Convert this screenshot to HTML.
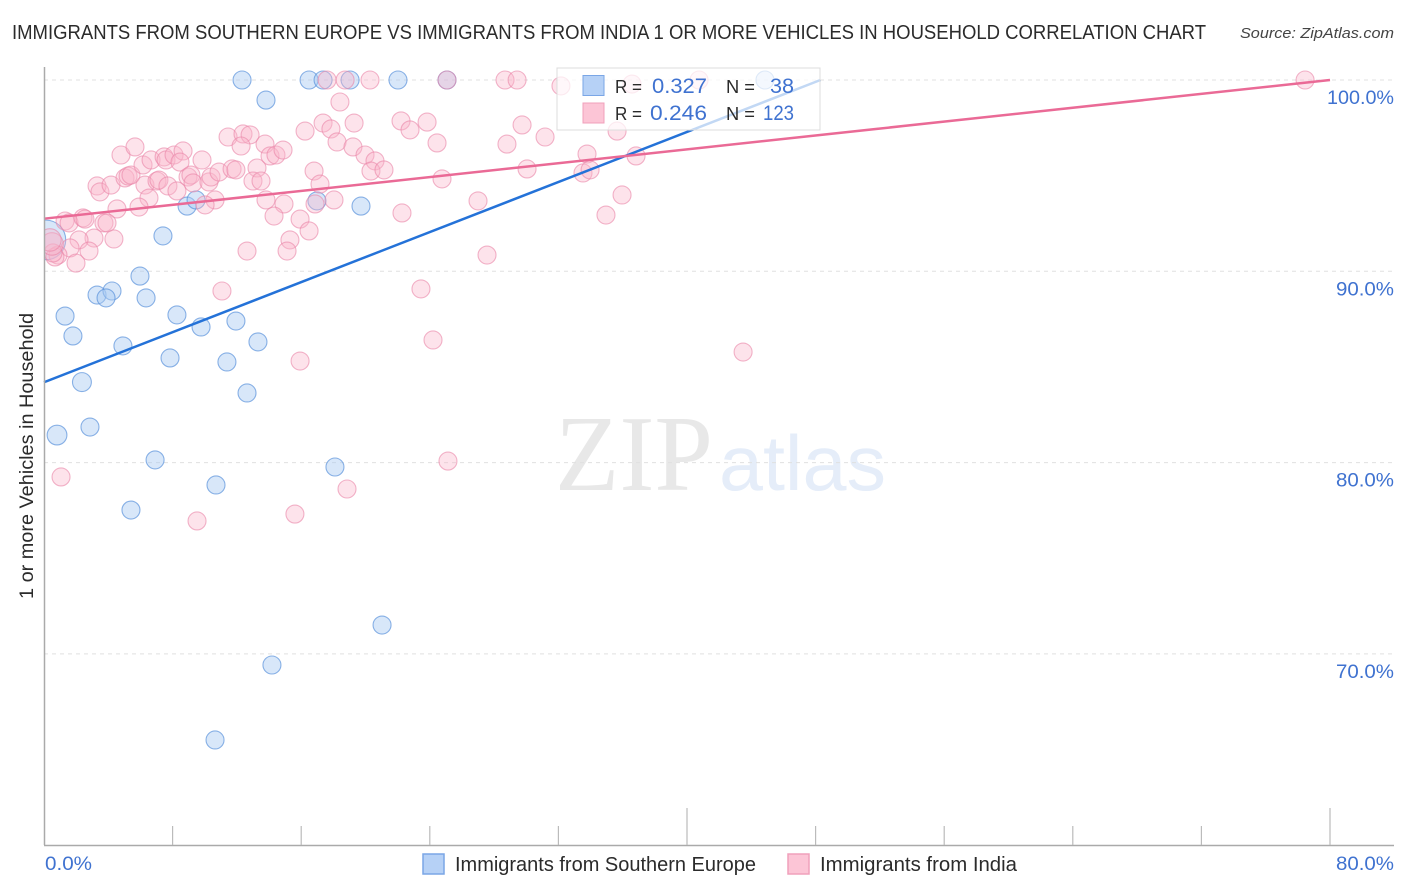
<!DOCTYPE html>
<html lang="en">
<head>
<meta charset="utf-8">
<title>Correlation chart</title>
<style>
html,body{margin:0;padding:0;background:#fff;width:1406px;height:892px;overflow:hidden}
svg{display:block;font-family:"Liberation Sans",sans-serif}
</style>
</head>
<body>
<svg id="chart" width="1406" height="892" viewBox="0 0 1406 892" xmlns="http://www.w3.org/2000/svg">
  <defs><clipPath id="plot-clip"><rect x="45" y="60" width="1349" height="785"/></clipPath></defs>
  <text x="12" y="39" font-size="20" fill="#2b2b2b" textLength="1194" lengthAdjust="spacingAndGlyphs">IMMIGRANTS FROM SOUTHERN EUROPE VS IMMIGRANTS FROM INDIA 1 OR MORE VEHICLES IN HOUSEHOLD CORRELATION CHART</text>
  <text x="1394" y="38" font-size="15" font-style="italic" fill="#444" text-anchor="end" textLength="154" lengthAdjust="spacingAndGlyphs">Source: ZipAtlas.com</text>
  <g id="watermark">
    <text x="555" y="490" font-family="'Liberation Serif',serif" font-size="108" fill="#e8e8e8" textLength="158" lengthAdjust="spacingAndGlyphs">ZIP</text>
    <text x="719" y="490" font-size="78" fill="#e5edf9" textLength="167" lengthAdjust="spacingAndGlyphs">atlas</text>
  </g>
  <g id="grid"></g>
  <g id="y-labels"></g>
  <g id="points" clip-path="url(#plot-clip)"></g>
  <g id="trends"></g>
  <g id="axes"></g>
  <text transform="translate(33,456) rotate(-90)" font-size="19" fill="#2b2b2b" text-anchor="middle" textLength="286" lengthAdjust="spacingAndGlyphs">1 or more Vehicles in Household</text>
  <text x="45" y="870" font-size="19" fill="#3f72d0" textLength="47" lengthAdjust="spacingAndGlyphs">0.0%</text>
  <text x="1394" y="870" font-size="19" fill="#3f72d0" text-anchor="end" textLength="58" lengthAdjust="spacingAndGlyphs">80.0%</text>
  <g>
    <rect x="557" y="68" width="263" height="62" fill="#fff" fill-opacity="0.72" stroke="#dcdcdc" stroke-width="1"/>
    <rect x="583" y="75.500" width="21" height="20" fill="#b6d1f6" stroke="#7aa6e6" stroke-width="1"/>
    <rect x="583" y="103" width="21" height="20" fill="#fcc5d6" stroke="#f0a0bb" stroke-width="1"/>
    <text x="615" y="93" font-size="18" fill="#2b2b2b" textLength="27" lengthAdjust="spacingAndGlyphs">R =</text>
    <text x="707" y="93" font-size="21" fill="#3f72d0" text-anchor="end" textLength="55" lengthAdjust="spacingAndGlyphs">0.327</text>
    <text x="726" y="93" font-size="18" fill="#2b2b2b" textLength="29" lengthAdjust="spacingAndGlyphs">N =</text>
    <text x="794" y="93" font-size="21" fill="#3f72d0" text-anchor="end" textLength="24" lengthAdjust="spacingAndGlyphs">38</text>
    <text x="615" y="120" font-size="18" fill="#2b2b2b" textLength="27" lengthAdjust="spacingAndGlyphs">R =</text>
    <text x="707" y="120" font-size="21" fill="#3f72d0" text-anchor="end" textLength="57" lengthAdjust="spacingAndGlyphs">0.246</text>
    <text x="726" y="120" font-size="18" fill="#2b2b2b" textLength="29" lengthAdjust="spacingAndGlyphs">N =</text>
    <text x="794" y="120" font-size="21" fill="#3f72d0" text-anchor="end" textLength="31" lengthAdjust="spacingAndGlyphs">123</text>
  </g>
  <g>
    <rect x="423" y="854" width="21" height="20" fill="#b6d1f6" stroke="#7aa6e6" stroke-width="1.500"/>
    <text x="455" y="871" font-size="20" fill="#2b2b2b" textLength="301" lengthAdjust="spacingAndGlyphs">Immigrants from Southern Europe</text>
  </g>
  <g>
    <rect x="788" y="854" width="21" height="20" fill="#fcc5d6" stroke="#f0a0bb" stroke-width="1.500"/>
    <text x="820" y="871" font-size="20" fill="#2b2b2b" textLength="197" lengthAdjust="spacingAndGlyphs">Immigrants from India</text>
  </g>
</svg>
<script>
const yTickValues = [100, 90, 80, 70];
const yTickLabels = ['100.0%', '90.0%', '80.0%', '70.0%'];
const xTickValues = [0, 8, 16, 24, 32, 40, 48, 56, 64, 72, 80];
const xMajorTicks = [40, 80];

const europeX = [12.32,16.49,17.36,19.04,22.02,25.07,44.85,13.81,8.90,9.46,16.98,19.72,7.40,0.12,5.97,3.30,4.23,3.86,6.35,1.31,1.80,8.27,9.77,11.94,4.91,13.31,7.84,11.38,2.36,12.63,0.81,2.86,6.91,10.70,5.41,18.10,21.03,14.18,10.64];
const europeY = [100,100,100,100,100,100,100,98.95,93.41,93.73,93.68,93.41,91.85,91.64,89.75,88.76,88.97,88.61,88.61,87.66,86.62,87.72,87.09,87.40,86.10,86.31,85.47,85.26,84.21,83.64,81.44,81.86,80.14,78.83,77.52,79.77,71.51,69.42,65.50];
const europeWeight = {13: 2.2, 28: 1.05, 30: 1.1};

const indiaX = [4.79,5.66,3.30,3.48,4.17,5.04,5.23,5.41,6.16,6.66,7.47,7.59,8.09,8.65,8.46,9.83,8.96,9.14,9.27,6.28,7.03,7.15,7.71,8.27,6.53,5.91,4.54,10.26,10.39,10.89,11.70,11.94,10.64,10.02,13.25,13.00,13.50,13.81,14.93,14.31,15.93,16.49,15.30,15.12,12.63,11.07,11.45,12.38,12.82,12.26,13.75,14.06,14.43,14.87,16.24,17.36,17.85,18.23,16.80,17.17,18.04,16.86,18.41,17.61,18.73,1.31,1.56,2.43,2.55,3.73,3.92,3.11,2.18,4.35,2.80,1.62,1.99,0.87,0.68,0.56,0.50,0.37,20.28,28.68,29.43,32.16,36.58,40.75,22.21,22.77,23.83,24.45,19.29,19.22,19.97,20.59,20.34,21.15,24.76,29.74,28.80,31.17,35.65,33.78,30.05,36.83,33.53,33.97,35.96,27.00,22.27,34.96,27.56,23.45,24.20,43.49,15.93,25.13,18.85,15.61,9.52,1.06,78.45,25.07];
const indiaY = [96.08,96.50,94.46,94.15,94.51,94.88,94.98,95.03,95.56,95.82,95.98,95.82,96.08,96.29,95.71,95.82,94.93,95.03,94.62,94.51,94.72,94.77,94.46,94.20,93.83,93.36,93.26,94.67,94.93,95.19,95.35,95.30,93.73,93.47,95.40,94.72,94.72,93.73,93.52,92.89,92.73,92.11,91.64,91.06,91.06,88.97,97.02,97.18,97.13,96.55,96.65,96.03,96.08,96.34,97.33,97.75,97.44,96.76,95.24,94.56,93.73,93.52,98.85,100,100,92.63,92.53,92.79,92.73,92.53,92.53,91.74,91.64,91.69,91.06,91.22,90.43,90.85,90.75,90.96,91.43,91.64,100,100,100,99.69,99.79,100,97.86,97.39,97.80,96.71,97.75,96.50,96.08,95.77,95.24,95.30,94.83,97.65,96.65,97.02,97.33,96.13,95.35,96.03,95.14,95.30,93.99,93.68,93.05,92.94,90.85,89.08,86.41,85.78,85.31,80.08,78.62,77.31,76.95,79.25,100,100];
const indiaWeight = {80: 1.25, 81: 1.25};

const europeTrendX = [0, 48.3];
const europeTrendY = [84.2, 100];
const indiaTrendX = [0, 80];
const indiaTrendY = [92.75, 100];

const NS = 'http://www.w3.org/2000/svg';
const xScale = v => 44 + v * 16.075;
const yScale = v => 80 + (100 - v) * 19.13;
const BASE_R = 9;

function make(tag, attrs, parent) {
  const el = document.createElementNS(NS, tag);
  for (const k in attrs) el.setAttribute(k, attrs[k]);
  parent.appendChild(el);
  return el;
}

const grid = document.getElementById('grid');
const yLabels = document.getElementById('y-labels');
yTickValues.forEach((v, i) => {
  const line = make('line', {x1: 44, x2: 1394, y1: yScale(v), y2: yScale(v), stroke: '#e0e0e0', 'stroke-width': 1, 'stroke-dasharray': '4 4'}, grid);
  
  
  const label = make('text', {x: 1394, y: yScale(v) + 24, 'font-size': 19, fill: '#3f72d0', 'text-anchor': 'end', textLength: yTickLabels[i].length > 5 ? 67 : 58, lengthAdjust: 'spacingAndGlyphs'}, yLabels);
  
  
  label.textContent = yTickLabels[i];
});

const axes = document.getElementById('axes');
const yAxis = make('line', {x1: 44.500, x2: 44.500, y1: 67, y2: 845, stroke: '#aaaaaa', 'stroke-width': 1.500}, axes);


const xAxis = make('line', {x1: 44, x2: 1394, y1: 845.500, y2: 845.500, stroke: '#aaaaaa', 'stroke-width': 1.500}, axes);


xTickValues.forEach(v => {
  if (v === 0) return;
  const top = xMajorTicks.includes(v) ? 808 : 826;
  const tick = make('line', {x1: xScale(v), x2: xScale(v), y1: top, y2: 845, stroke: '#bbbbbb', 'stroke-width': 1.200}, axes);
  
  
});

const points = document.getElementById('points');
europeX.forEach((x, i) => {
  const c = make('circle', {cx: xScale(x), cy: yScale(europeY[i]), r: BASE_R * (europeWeight[i] || 1), fill: '#a9c9f2', 'fill-opacity': 0.45, stroke: '#5b93dc', 'stroke-opacity': 0.7, 'stroke-width': 1.100}, points);
  
  
});
indiaX.forEach((x, i) => {
  const c = make('circle', {cx: xScale(x), cy: yScale(indiaY[i]), r: BASE_R * (indiaWeight[i] || 1), fill: '#f9b5ca', 'fill-opacity': 0.38, stroke: '#ea84a6', 'stroke-opacity': 0.6, 'stroke-width': 1.100}, points);
  
  
});

const trends = document.getElementById('trends');
const blueTrend = make('line', {x1: xScale(europeTrendX[0]), y1: yScale(europeTrendY[0]), x2: xScale(europeTrendX[1]), y2: yScale(europeTrendY[1]), stroke: '#2472d8', 'stroke-width': 2.500}, trends);


const pinkTrend = make('line', {x1: xScale(indiaTrendX[0]), y1: yScale(indiaTrendY[0]), x2: xScale(indiaTrendX[1]), y2: yScale(indiaTrendY[1]), stroke: '#ea6a96', 'stroke-width': 2.500}, trends);


</script>
</body>
</html>
